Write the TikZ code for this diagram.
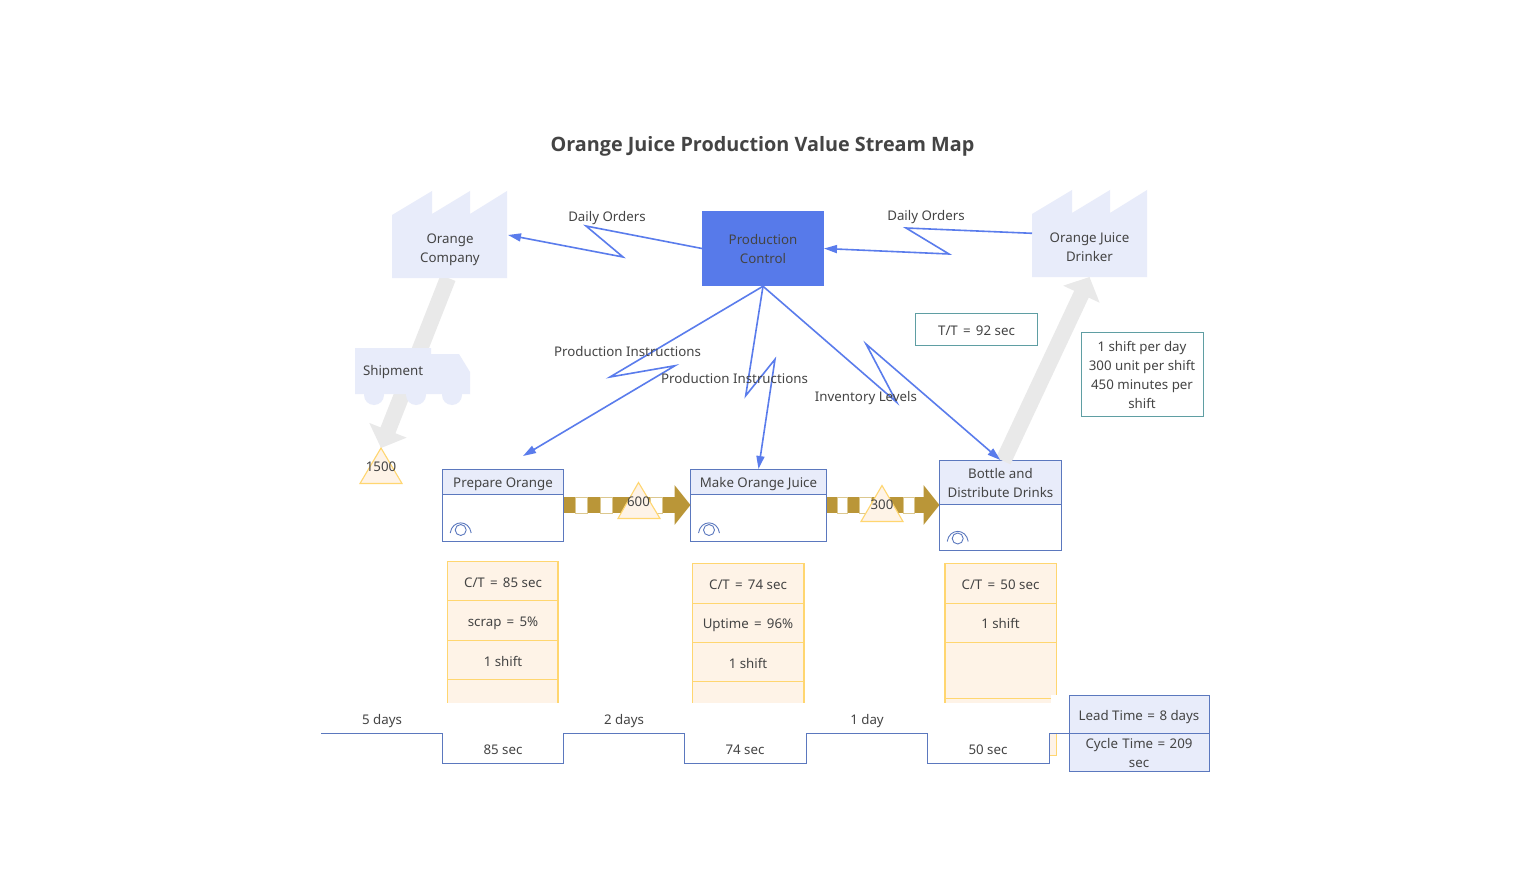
\documentclass[tikz,border=0pt]{standalone}
\usepackage{fontspec}
\setmainfont{Noto Sans}
\newfontfamily\titlefont{Open Sans}
\usetikzlibrary{arrows.meta}
\definecolor{txt}{HTML}{444444}
\definecolor{blueln}{HTML}{5A7CEC}
\definecolor{pcfill}{HTML}{577AEA}
\definecolor{lav}{HTML}{E8ECFA}
\definecolor{edgeb}{HTML}{5B78BE}
\definecolor{paleo}{HTML}{FEF3E7}
\definecolor{yell}{HTML}{FFD670}
\definecolor{teal2}{HTML}{5F9EA3}
\definecolor{gold}{HTML}{BA9638}
\definecolor{tan2}{HTML}{DCC88F}
\definecolor{gray2}{HTML}{E9E9E9}
\newcommand{\eqs}{\space\hspace{1.8pt}=\hspace{1.8pt}\space}
\newcommand{\eql}{\space\hspace{1pt}=\hspace{1pt}\space}
\tikzset{
  x=1pt,y=-1pt,
  every node/.style={text=txt,font=\fontsize{13.3}{19}\selectfont,inner sep=0pt,outer sep=0pt,text height=14pt,text depth=3.6pt},
  labeltxt/.style={align=center,text height=,text depth=},
  procbox/.style={draw=edgeb,line width=1pt,fill=white,minimum height=#1},
  factorybox/.style={minimum width=115pt,align=center},
  factoryshape/.style={fill=lav,draw=none},
  truckshape/.style={fill=lav,draw=none},
  bolt/.style={draw=blueln,line width=1.6pt,-{Triangle[length=13pt,width=8pt,fill=blueln]}},
  grayarrow/.style={draw=gray2,line width=16pt,-{Triangle[length=19pt,width=39pt,fill=gray2]}},
  pushline/.style={draw=gold,line width=16.5pt,-{Triangle[length=16pt,width=39pt,fill=gold]}},
  stripe/.style={fill=white,draw=tan2,line width=0.7pt},
  triangleinv/.style={fill=paleo,draw=yell,line width=1.1pt,line join=miter},
  tablecell/.style={fill=paleo,draw=yell,line width=1.1pt},
  tealbox/.style={draw=teal2,line width=1pt,fill=white,align=center,text height=,text depth=},
  timeline/.style={draw=edgeb,line width=1pt},
  eyeline/.style={draw=edgeb,line width=0.9pt},
}
\begin{document}
\begin{tikzpicture}
\useasboundingbox (0,0) rectangle (1516,872);
\fill[white] (0,0) rectangle (1516,872);

\node[font=\titlefont\fontsize{19.8}{24}\selectfont\bfseries,text height=18pt,text depth=5pt] (title) at (762.5,145.5) {Orange Juice Production Value Stream Map};

% invisible anchors for factories and truck
\node[factorybox,minimum height=63pt] (orange) at (449.5,246.5) {};
\node[factorybox,minimum height=63pt] (drinker) at (1089.5,245.5) {};
\coordinate (orangeTip) at (508,235);
\coordinate (drinkerOut) at (1032,233.3);

% inventory 1500 anchor
\coordinate (apexA) at (381,448);

% grey arrow under truck
\draw[grayarrow] (448,278) -- (apexA);

% factories
\path[factoryshape] (392,215) -- (432,191) -- (432,214) -- (470,191) -- (470,214) -- (507,191) -- (507,278) -- (392,278) -- cycle;
\path[factoryshape] (1032,214) -- (1072,190) -- (1072,213) -- (1110,190) -- (1110,213) -- (1147,190) -- (1147,277) -- (1032,277) -- cycle;
\node[labeltxt] (orangeT) at (450,249.5) {Orange\\Company};
\node[labeltxt] (drinkerT) at (1089.5,247.5) {Orange Juice\\Drinker};

% truck
\path[truckshape] (355,348) -- (431,348) -- (431,354) -- (459,354) -- (470,372) -- (470,394) -- (355,394) -- cycle;
\fill[lav] (374,395) circle[radius=10pt];
\fill[lav] (416,395) circle[radius=10pt];
\fill[lav] (452,395) circle[radius=10pt];
\node[anchor=west] (shipment) at (363,370) {Shipment};

% triangle 1500
\path[triangleinv] (apexA) -- (402,483.5) -- (360,483.5) -- cycle;
\node (n1500) at (381,466.5) {1500};

% tables
\path[tablecell] (447.5,561.5) rectangle (558,720);
\draw[yell,line width=1pt] (447.5,600.7) -- (558,600.7) (447.5,640.7) -- (558,640.7) (447.5,679.3) -- (558,679.3);
\path[tablecell] (692.5,563.3) rectangle (804,720);
\draw[yell,line width=1pt] (692.5,603.3) -- (804,603.3) (692.5,642.3) -- (804,642.3) (692.5,681.3) -- (804,681.3);
\path[tablecell] (945,563.3) rectangle (1056.3,755.7);
\draw[yell,line width=1pt] (945,603.3) -- (1056.3,603.3) (945,642.3) -- (1056.3,642.3) (945,698.6) -- (1056.3,698.6);
\node (t1a) at (503,582) {C/T\eqs 85 sec};
\node (t1b) at (503,621.5) {scrap\eqs 5\%};
\node (t1c) at (503,661) {1 shift};
\node (t2a) at (748,584) {C/T\eqs 74 sec};
\node (t2b) at (748,623.5) {Uptime\eqs 96\%};
\node (t2c) at (748,663) {1 shift};
\node (t3a) at (1000.5,584) {C/T\eqs 50 sec};
\node (t3b) at (1000.5,623.5) {1 shift};

% white covers
\fill[white] (321,702.8) rectangle (1050.5,733);
\fill[white] (1050.5,695) rectangle (1057.5,733);
\fill[white] (928,733) rectangle (1049,763.5);

% process boxes
\node[procbox=72pt,minimum width=121pt,text height=,text depth=] (prep) at (503,505) {};
\node[procbox=72pt,minimum width=136pt,text height=,text depth=] (make) at (758.5,505) {};
\node[procbox=90pt,minimum width=121.5pt,text height=,text depth=] (bottle) at (1000.25,505) {};

% push arrows
\draw[pushline] (prep.east) -- (make.west);
\draw[pushline] (make.east) -- (bottle.west);
\path[stripe] (575,497.5) rectangle (587,513.5);
\path[stripe] (600,497.5) rectangle (612,513.5);
\path[stripe] (650,497.5) rectangle (662,513.5);
\path[stripe] (837,497.5) rectangle (847,513.5);
\path[stripe] (859,497.5) rectangle (871,513.5);
\path[stripe] (903,497.5) rectangle (914,513.5);

% redraw process boxes headers
\path[draw=edgeb,line width=1pt,fill=lav] (442.5,469) rectangle (563.5,494.5);
\path[draw=edgeb,line width=1pt,fill=lav] (690.5,469) rectangle (826.5,494.5);
\path[draw=edgeb,line width=1pt,fill=lav] (939.5,460) rectangle (1061,504);
\node (prepT) at (503,482.5) {Prepare Orange};
\node (makeT) at (758.5,482.5) {Make Orange Juice};
\node[labeltxt] (bottleT) at (1000.5,483.5) {Bottle and\\Distribute Drinks};

% eyes
\foreach \ex/\ey in {460.7/530,709/530,957.7/538.5}{
  \draw[eyeline] (\ex-10.5,\ey+3) .. controls (\ex-8.5,\ey-10.5) and (\ex+8.5,\ey-10.5) .. (\ex+10.5,\ey+3);
  \draw[eyeline] (\ex,\ey) circle[radius=5.5pt];
}

% triangles on push arrows
\path[triangleinv] (638.5,482.5) -- (660,518.5) -- (618,518.5) -- cycle;
\path[triangleinv] (882,485.5) -- (903,521.5) -- (861,521.5) -- cycle;
\node (n600) at (638.5,501.5) {600};
\node (n300) at (882,504) {300};

% grey arrow right
\draw[grayarrow] ([xshift=3pt,yshift=-1pt]bottle.north) -- (drinker.south);

% production control
\node[draw=none,fill=pcfill,minimum width=122pt,minimum height=75.5pt,labeltxt] (pc) at (763,248.5) {};
\node[labeltxt] (pcT) at (763,249.5) {Production\\Control};

% info boxes
\node[tealbox,minimum width=122pt,minimum height=32pt] (tt) at (976.5,329) {};
\node (ttT) at (976.5,330) {T/T\eqs 92 sec};
\node[tealbox,minimum width=122pt,minimum height=84pt] (info) at (1142,374.3) {};
\node[labeltxt] (infoT) at (1142,375.3) {1 shift per day\\300 unit per shift\\450 minutes per\\shift};

% lightning connectors
\coordinate (b1a) at (586,226); \coordinate (b1b) at (623,257);
\coordinate (b2a) at (906,228); \coordinate (b2b) at (949,254);
\coordinate (b3a) at (610,377); \coordinate (b3b) at (675,365.7); \coordinate (prepTip) at (523,456);
\coordinate (b4a) at (745.7,395.7); \coordinate (b4b) at (775,359.3);
\coordinate (b5a) at (896.7,402.3); \coordinate (b5b) at (866,344);
\draw[bolt] (pc.west) -- (b1a) -- (b1b) -- (orangeTip);
\draw[bolt] (drinkerOut) -- (b2a) -- (b2b) -- (pc.east);
\draw[bolt] (pc.south) -- (b3a) -- (b3b) -- (prepTip);
\draw[bolt] (pc.south) -- (b4a) -- (b4b) -- (make.north);
\draw[bolt] (pc.south) -- (b5a) -- (b5b) -- (bottle.north);

% connector labels
\node (l1) at (607,216) {Daily Orders};
\node (l2) at (926,215.5) {Daily Orders};
\node (l3) at (627.5,351) {Production Instructions};
\node (l4) at (734.5,378) {Production Instructions};
\node (l5) at (866,396) {Inventory Levels};

% timeline
\node[draw=edgeb,line width=1pt,fill=lav,minimum width=140pt,minimum height=76pt,text height=,text depth=] (sumbox) at (1139.3,733.5) {};
\coordinate (tlStart) at (321,733.5);
\coordinate (tlEnd) at (sumbox.east);
\draw[timeline] (tlStart) -- (442.5,733.5) -- (442.5,763.5) -- (563.5,763.5) -- (563.5,733.5) -- (684.5,733.5) -- (684.5,763.5) -- (806,763.5) -- (806,733.5) -- (927.7,733.5) -- (927.7,763.5) -- (1049,763.5) -- (1049,733.5) -- (tlEnd);
\node (d1) at (382,719) {5 days};
\node (s1) at (503,749) {85 sec};
\node (d2) at (624,719) {2 days};
\node (s2) at (745,749) {74 sec};
\node (d3) at (867,719) {1 day};
\node (s3) at (988,749) {50 sec};
\node (lead) at (1139,715) {Lead Time\eql 8 days};
\node[labeltxt,text width=130pt] (cyc) at (1139,753) {Cycle Time = 209\\sec};
\end{tikzpicture}
\end{document}
